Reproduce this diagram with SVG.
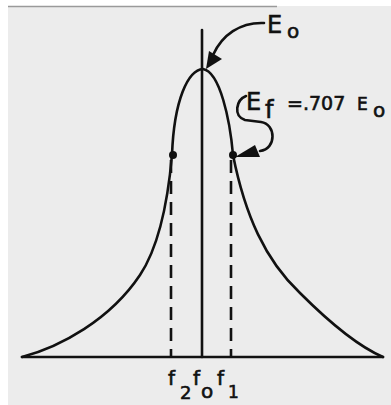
<svg xmlns="http://www.w3.org/2000/svg" width="391" height="405" viewBox="0 0 391 405">
<style>
.ln{fill:none;stroke:#111;stroke-width:2.6;stroke-linecap:round;stroke-linejoin:round}
.ds{fill:none;stroke:#111;stroke-width:2.6;stroke-dasharray:13 8}
.t{font-family:"DejaVu Sans","Liberation Sans",sans-serif;fill:#111;stroke:#111;stroke-width:0.6}
</style>
<rect x="0" y="0" width="391" height="405" fill="#ffffff"/>
<rect x="8" y="6" width="383" height="399" fill="#ececec"/>
<line x1="8" y1="6.5" x2="277" y2="6.5" stroke="#9a9a9a" stroke-width="1.5"/>
<g id="axis">
<line class="ln" x1="22" y1="357" x2="383" y2="357"/>
<line class="ln" x1="202" y1="30" x2="202" y2="357"/>
</g>
<g id="curve">
<path class="ln" d="M22,357 C60,347 110,320 140,275 C160,245 168,200 172,155 C174,100 188,70 203,69 C220,72 230,120 233,155 C245,215 265,260 300,293 C325,318 355,345 383,357"/>
<circle cx="173" cy="155" r="4" fill="#111"/>
<circle cx="233" cy="155" r="4" fill="#111"/>
</g>
<g id="dashes">
<line class="ds" x1="171" y1="160" x2="171" y2="357"/>
<line class="ds" x1="231" y1="160" x2="231" y2="357"/>
</g>
<g id="connectors">
<path class="ln" d="M264,23 C240,22 222,35 213,55"/>
<polygon points="206,69 209,51 222,59" fill="#111"/>
<path class="ln" d="M246,96 C236,100 233,116 245,120 L261,122 C276,124 277,149 260,151"/>
<polygon points="235,157 255,145 260,157" fill="#111"/>
</g>
<g id="label-E0">
<text class="t" x="267" y="33" font-size="24">E</text>
<text class="t" x="287" y="38" font-size="20">o</text>
</g>
<g id="label-Ef">
<text class="t" x="246" y="110" font-size="24">E</text>
<text class="t" x="265" y="118" font-size="24">f</text>
<text class="t" x="287" y="110" font-size="19">=.707</text>
<text class="t" x="357" y="110" font-size="17">E</text>
<text class="t" x="373" y="117" font-size="20">o</text>
</g>
<g id="label-f">
<text class="t" x="168" y="385" font-size="20">f</text>
<text class="t" x="180" y="399" font-size="18">2</text>
<text class="t" x="193" y="385" font-size="20">f</text>
<text class="t" x="201" y="398" font-size="20">o</text>
<text class="t" x="217" y="385" font-size="20">f</text>
<text class="t" x="228" y="398" font-size="17">1</text>
</g>
</svg>
